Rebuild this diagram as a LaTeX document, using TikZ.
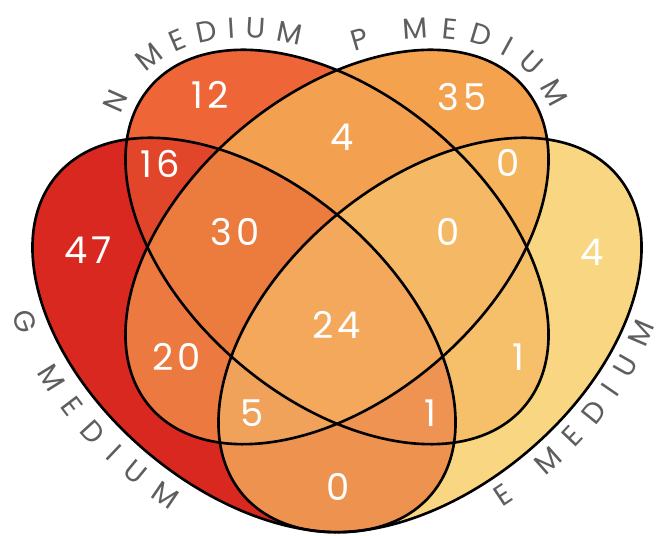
\documentclass[tikz,border=0pt]{standalone}
\usepackage{fontspec}
\setmainfont{Poppins}
\newfontfamily\countfont[LetterSpace=10]{Poppins}
\usetikzlibrary{decorations.text}

% one fill colour per exact region
\definecolor{cG}{HTML}{D8281F}
\definecolor{cN}{HTML}{EE6637}
\definecolor{cP}{HTML}{F4A24E}
\definecolor{cE}{HTML}{F9D681}
\definecolor{cGN}{HTML}{E2462A}
\definecolor{cGP}{HTML}{EC7A40}
\definecolor{cGE}{HTML}{EE9250}
\definecolor{cNP}{HTML}{F3A050}
\definecolor{cNE}{HTML}{F6C06B}
\definecolor{cPE}{HTML}{F5B35B}
\definecolor{cGNP}{HTML}{EC7B3E}
\definecolor{cGNE}{HTML}{EE9352}
\definecolor{cGPE}{HTML}{F0A25A}
\definecolor{cNPE}{HTML}{F5B865}
\definecolor{cAll}{HTML}{F3A85C}
\definecolor{labelgray}{HTML}{5E5E5E}

\newcommand{\egg}{(0,0) ellipse (4.92 and 3.04)}
\newcommand{\mediumfont}{\fontsize{16.5}{16.5}\selectfont\color{labelgray}}

\tikzset{
  ellG/.style={shift={(4.88,4.02)}, rotate=-40.5},
  ellN/.style={shift={(6.74,5.78)}, rotate=-40.5},
  ellP/.style={shift={(6.74,5.78)}, rotate=40.5},
  ellE/.style={shift={(8.60,4.02)}, rotate=40.5},
  vennline/.style={draw=black, line width=1.5pt},
  count/.style={font=\countfont\fontsize{21}{21}\selectfont, text=white, inner sep=0pt},
  medium/.style={decorate, decoration={text along path, text align={fit to path}, text={|\mediumfont|#1}}}
}

\begin{document}
\begin{tikzpicture}
  \useasboundingbox (0,0) rectangle (13.26,10.72);

  % single sets
  \fill[cG, ellG] \egg;
  \fill[cN, ellN] \egg;
  \fill[cP, ellP] \egg;
  \fill[cE, ellE] \egg;

  % pairs
  \begin{scope}\clip[ellG] \egg; \fill[cGN, ellN] \egg; \end{scope}
  \begin{scope}\clip[ellG] \egg; \fill[cGP, ellP] \egg; \end{scope}
  \begin{scope}\clip[ellG] \egg; \fill[cGE, ellE] \egg; \end{scope}
  \begin{scope}\clip[ellN] \egg; \fill[cNP, ellP] \egg; \end{scope}
  \begin{scope}\clip[ellN] \egg; \fill[cNE, ellE] \egg; \end{scope}
  \begin{scope}\clip[ellP] \egg; \fill[cPE, ellE] \egg; \end{scope}

  % triples
  \begin{scope}\clip[ellG] \egg; \clip[ellN] \egg; \fill[cGNP, ellP] \egg; \end{scope}
  \begin{scope}\clip[ellG] \egg; \clip[ellN] \egg; \fill[cGNE, ellE] \egg; \end{scope}
  \begin{scope}\clip[ellG] \egg; \clip[ellP] \egg; \fill[cGPE, ellE] \egg; \end{scope}
  \begin{scope}\clip[ellN] \egg; \clip[ellP] \egg; \fill[cNPE, ellE] \egg; \end{scope}

  % all four
  \begin{scope}\clip[ellG] \egg; \clip[ellN] \egg; \clip[ellP] \egg; \fill[cAll, ellE] \egg; \end{scope}

  % outlines
  \draw[vennline, ellG] \egg;
  \draw[vennline, ellN] \egg;
  \draw[vennline, ellP] \egg;
  \draw[vennline, ellE] \egg;

  % set names round the outside
  \path[ellN, medium={N MEDIUM}] (194:5.16 and 3.28) arc[start angle=194, end angle=128, x radius=5.16, y radius=3.28];
  \path[ellP, medium={P MEDIUM}] (57:5.16 and 3.28) arc[start angle=57, end angle=-12, x radius=5.16, y radius=3.28];
  \path[ellG, medium={G MEDIUM}] (227:5.58 and 3.70) arc[start angle=227, end angle=282, x radius=5.58, y radius=3.70];
  \path[ellE, medium={E MEDIUM}] (258:5.52 and 3.64) arc[start angle=258, end angle=310, x radius=5.52, y radius=3.64];

  % counts
  \node[count] (nG) at (1.76,5.72) {47};
  \node[count] (nN) at (4.20,8.82) {12};
  \node[count] (nP) at (9.24,8.78) {35};
  \node[count] (nE) at (11.84,5.68) {4};
  \node[count] (nGN) at (3.20,7.44) {16};
  \node[count] (nNP) at (6.84,7.98) {4};
  \node[count] (nPE) at (10.16,7.46) {0};
  \node[count] (nGNP) at (4.70,6.08) {30};
  \node[count] (nNPE) at (8.96,6.08) {0};
  \node[count] (nAll) at (6.74,4.22) {24};
  \node[count] (nGP) at (3.54,3.58) {20};
  \node[count] (nNE) at (10.36,3.58) {1};
  \node[count] (nGPE) at (5.04,2.46) {5};
  \node[count] (nGNE) at (8.60,2.46) {1};
  \node[count] (nGE) at (6.76,0.98) {0};
\end{tikzpicture}
\end{document}
